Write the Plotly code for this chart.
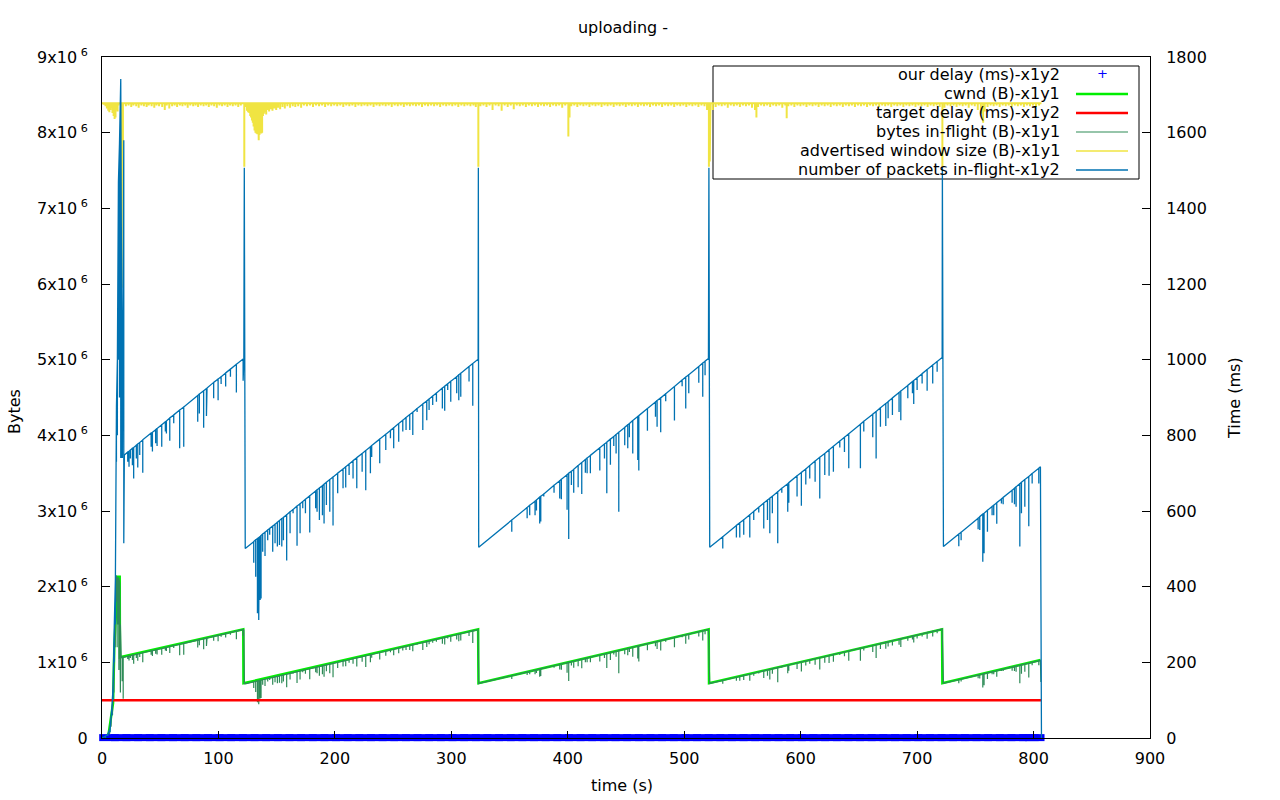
import plotly.graph_objects as go

# ---------------- data ----------------
# number of packets in-flight (y2): per sample time, sawtooth value (top) and lowest value (low)
PKT_T = [0, 3, 5, 7, 8.5, 9.5, 10.5, 11.5, 12.4, 13.2, 14.1, 15.0, 16.1, 16.8, 17.5, 18.7, 19.2,
         22.1, 23.2, 24.4, 26.1, 27.2, 29.5, 30.7, 32.4, 35.0, 42.2, 43.3, 46.1, 47.3, 51.3, 54.4, 55.3, 58.2, 61.6, 66.7, 70.2,
         82.2, 83.6, 87.3, 89.7, 90.2, 95.9, 99.7, 102.3, 106.2, 110.3, 115.4, 121.2, 121.8, 122.2, 122.5,
         123.0, 130.3, 132.0, 133.5, 134.6, 135.1, 135.8, 136.2, 136.6, 138.0, 140.0, 142.3, 144.0, 146.6, 148.6, 150.6, 152.4,
         154.4, 155.8, 158.6, 161.5, 164.1, 167.5, 170.1, 172.4, 174.7, 178.4, 183.5, 184.7, 186.7, 189.3, 190.7, 192.7, 195.6,
         198.4, 202.4, 207.0, 209.3, 212.2, 215.6, 218.8, 223.4, 226.5, 230.5, 231.6, 238.5, 243.7, 247.7, 250.5, 254.8, 258.3,
         261.1, 264.3, 266.9, 270.6, 275.5, 278.9, 280.9, 284.0, 287.2, 292.3, 294.3, 296.9, 299.5, 304.6, 306.4, 308.1, 315.2,
         318.4, 323.0, 323.2,
         323.5, 351.9, 365.1, 367.3, 371.9, 373.1, 375.9, 376.8, 379.4, 388.2, 393.1, 394.5, 399.4, 400.8, 403.1, 405.1, 408.9,
         412.0, 415.1, 416.6, 419.4, 427.5, 431.5, 433.5, 436.6, 439.5, 441.5, 443.8, 448.9, 451.5, 452.9, 455.8, 460.1, 461.0,
         468.4, 475.3, 476.7, 479.8, 484.1, 491.6, 498.2, 501.3, 503.9, 512.5, 515.9, 517.9, 520.8, 521.2,
         521.9, 533.1, 544.8, 547.7, 551.1, 556.3, 559.7, 564.0, 568.3, 571.5, 573.5, 575.7, 580.3, 583.8, 588.9, 589.8, 596.9,
         600.6, 604.4, 607.8, 612.4, 616.4, 620.7, 624.4, 628.1, 633.6, 637.6, 641.3, 651.3, 654.2, 661.9, 664.8, 668.5, 673.1,
         675.1, 678.8, 684.5, 686.0, 692.0, 696.0, 697.1, 700.0, 704.3, 708.6, 713.4, 717.2, 721.5, 721.7,
         722.6, 735.8, 737.8, 752.4, 753.8, 756.4, 757.5, 760.4, 764.4, 765.8, 768.4, 772.4, 773.9, 781.6, 783.6, 785.0, 788.2,
         789.6, 792.5, 795.9, 798.8, 804.5, 805.9, 806.1, 806.6, 806.8]
PKT_TOP = [0, 5, 10, 25, 80, 135, 293, 420, 875, 1000, 1470, 1570, 1742, 1200, 760, 1580, 748,
           756, 758, 761, 766, 768, 774, 777, 781, 788, 806, 808, 815, 818, 828, 836, 838, 846, 854, 867, 875,
           905, 909, 918, 924, 925, 940, 949, 955, 965, 975, 988, 1002, 1002, 1507, 502,
           501, 519, 524, 527, 530, 531, 533, 534, 535, 539, 544, 550, 554, 560, 565, 570, 575,
           580, 583, 590, 598, 604, 613, 619, 625, 631, 640, 653, 656, 661, 667, 671, 676, 683,
           690, 700, 711, 717, 724, 733, 741, 752, 760, 770, 773, 790, 803, 813, 820, 831, 840,
           847, 855, 861, 871, 883, 891, 896, 904, 912, 925, 930, 936, 943, 955, 960, 964, 982,
           990, 1001, 1507,
           504, 576, 609, 615, 626, 629, 637, 639, 645, 668, 680, 684, 696, 700, 705, 710, 720,
           728, 736, 740, 747, 767, 777, 782, 790, 797, 802, 808, 821, 828, 831, 839, 850, 852,
           871, 888, 892, 899, 910, 929, 946, 954, 960, 982, 991, 996, 1003, 1507,
           504, 532, 562, 569, 577, 590, 599, 610, 621, 629, 634, 639, 651, 660, 672, 675, 693,
           702, 711, 720, 732, 742, 752, 762, 771, 785, 795, 804, 829, 837, 856, 863, 873, 884,
           889, 899, 913, 917, 932, 942, 945, 952, 963, 974, 986, 995, 1006, 1509,
           506, 539, 544, 581, 585, 592, 594, 602, 612, 615, 622, 632, 636, 655, 660, 664, 672,
           676, 683, 691, 699, 713, 717, 523, 523, 0]
PKT_LOW = [0, 0, 5, 15, 60, 100, 200, 300, 730, 800, 1000, 900, 740, 740, 740, 515, 748,
           730, 717, 739, 721, 686, 739, 715, 748, 701, 770, 757, 779, 772, 770, 810, 805, 786, 832, 766, 770,
           836, 858, 820, 851, 867, 898, 893, 936, 929, 955, 913, 944, 1002, 1507, 502,
           501, 463, 426, 330, 312, 360, 365, 370, 369, 492, 481, 523, 537, 492, 515, 506, 510,
           506, 523, 469, 541, 594, 508, 541, 607, 594, 543, 607, 598, 576, 589, 567, 616, 598,
           562, 647, 660, 662, 695, 686, 660, 704, 655, 700, 743, 726, 761, 792, 766, 783, 810,
           814, 814, 801, 862, 814, 840, 867, 880, 889, 871, 865, 920, 889, 911, 893, 902, 942,
           878, 1001, 1507,
           504, 545, 581, 589, 589, 601, 567, 572, 638, 648, 633, 631, 603, 526, 669, 648, 663,
           645, 701, 700, 700, 707, 739, 647, 722, 772, 752, 598, 774, 766, 795, 752, 735, 707,
           812, 849, 823, 808, 890, 839, 930, 871, 911, 939, 902, 959, 1003, 1507,
           504, 501, 530, 530, 537, 530, 576, 596, 554, 576, 541, 594, 515, 648, 598, 622, 638,
           614, 670, 686, 677, 633, 695, 693, 704, 768, 756, 713, 713, 810, 795, 739, 823, 825,
           845, 854, 862, 840, 898, 911, 883, 920, 937, 918, 937, 968, 1006, 1509,
           506, 507, 523, 552, 550, 466, 488, 545, 589, 589, 566, 620, 618, 622, 618, 611, 506,
           594, 611, 560, 673, 673, 717, 523, 523, 0]

# bytes in-flight (y1, in units of 10^6 bytes)
BIF_T = [0, 3, 5, 6.5, 7.8, 9.0, 10.2, 11.3, 12.2, 13.0, 13.8, 14.5, 15.2, 15.8, 16.5, 17.3, 18.2, 19.2,
         22.1, 23.2, 24.4, 26.1, 27.2, 29.5, 30.7, 32.4, 35.0, 42.2, 43.3, 46.1, 47.3, 51.3, 54.4, 55.3, 58.2, 61.6, 66.7, 70.2,
         82.2, 83.6, 87.3, 89.7, 90.2, 95.9, 99.7, 102.3, 106.2, 110.3, 115.4, 121.2, 121.8, 122.3,
         123.0, 130.3, 132.0, 133.5, 134.6, 135.1, 135.8, 136.2, 136.6, 138.0, 140.0, 142.3, 144.0, 146.6, 148.6, 150.6, 152.4,
         154.4, 155.8, 158.6, 161.5, 164.1, 167.5, 170.1, 172.4, 174.7, 178.4, 183.5, 184.7, 186.7, 189.3, 190.7, 192.7, 195.6,
         198.4, 202.4, 207.0, 209.3, 212.2, 215.6, 218.8, 223.4, 226.5, 230.5, 231.6, 238.5, 243.7, 247.7, 250.5, 254.8, 258.3,
         261.1, 264.3, 266.9, 270.6, 275.5, 278.9, 280.9, 284.0, 287.2, 292.3, 294.3, 296.9, 299.5, 304.6, 306.4, 308.1, 315.2,
         318.4, 323.0, 323.5,
         323.8, 351.9, 365.1, 367.3, 371.9, 373.1, 375.9, 376.8, 379.4, 388.2, 393.1, 394.5, 399.4, 400.8, 403.1, 405.1, 408.9,
         412.0, 415.1, 416.6, 419.4, 427.5, 431.5, 433.5, 436.6, 439.5, 441.5, 443.8, 448.9, 451.5, 452.9, 455.8, 460.1, 461.0,
         468.4, 475.3, 476.7, 479.8, 484.1, 491.6, 498.2, 501.3, 503.9, 512.5, 515.9, 517.9, 520.8, 521.4,
         521.9, 533.1, 544.8, 547.7, 551.1, 556.3, 559.7, 564.0, 568.3, 571.5, 573.5, 575.7, 580.3, 583.8, 588.9, 589.8, 596.9,
         600.6, 604.4, 607.8, 612.4, 616.4, 620.7, 624.4, 628.1, 633.6, 637.6, 641.3, 651.3, 654.2, 661.9, 664.8, 668.5, 673.1,
         675.1, 678.8, 684.5, 686.0, 692.0, 696.0, 697.1, 700.0, 704.3, 708.6, 713.4, 717.2, 721.5, 722.0,
         722.6, 735.8, 737.8, 752.4, 753.8, 756.4, 757.5, 760.4, 764.4, 765.8, 768.4, 772.4, 773.9, 781.6, 783.6, 785.0, 788.2,
         789.6, 792.5, 795.9, 798.8, 804.5, 805.9, 806.3]
BIF_TOP = [0, 0.01, 0.03, 0.1, 0.25, 0.42, 0.9, 1.6, 2.15, 2.1, 2.12, 2.1, 2.05, 1.5, 1.07, 1.07, 1.07, 1.07,
           1.081, 1.084, 1.088, 1.095, 1.098, 1.107, 1.111, 1.117, 1.127, 1.153, 1.155, 1.165, 1.170, 1.184, 1.195, 1.198, 1.210, 1.221, 1.240, 1.251,
           1.294, 1.300, 1.313, 1.321, 1.323, 1.344, 1.357, 1.366, 1.380, 1.394, 1.413, 1.433, 1.433, 0.718,
           0.716, 0.742, 0.749, 0.754, 0.758, 0.759, 0.762, 0.764, 0.765, 0.771, 0.778, 0.787, 0.792, 0.801, 0.808, 0.815, 0.822,
           0.829, 0.834, 0.844, 0.855, 0.864, 0.877, 0.885, 0.894, 0.902, 0.915, 0.934, 0.938, 0.945, 0.954, 0.960, 0.967, 0.977,
           0.987, 1.001, 1.017, 1.025, 1.035, 1.048, 1.060, 1.075, 1.087, 1.101, 1.105, 1.130, 1.148, 1.163, 1.173, 1.188, 1.201,
           1.211, 1.223, 1.231, 1.246, 1.263, 1.274, 1.281, 1.293, 1.304, 1.323, 1.330, 1.338, 1.348, 1.366, 1.373, 1.379, 1.404,
           1.416, 1.431, 0.719,
           0.721, 0.824, 0.871, 0.879, 0.895, 0.899, 0.911, 0.914, 0.922, 0.955, 0.972, 0.978, 0.995, 1.001, 1.008, 1.015, 1.030,
           1.041, 1.052, 1.058, 1.068, 1.097, 1.111, 1.118, 1.130, 1.140, 1.147, 1.155, 1.174, 1.184, 1.188, 1.200, 1.216, 1.218,
           1.246, 1.270, 1.276, 1.286, 1.301, 1.328, 1.353, 1.364, 1.373, 1.404, 1.417, 1.424, 1.434, 0.721,
           0.721, 0.761, 0.804, 0.814, 0.825, 0.844, 0.857, 0.872, 0.888, 0.899, 0.907, 0.914, 0.931, 0.944, 0.961, 0.965, 0.991,
           1.004, 1.017, 1.030, 1.047, 1.061, 1.075, 1.090, 1.103, 1.123, 1.137, 1.150, 1.185, 1.197, 1.224, 1.234, 1.248, 1.264,
           1.271, 1.286, 1.306, 1.311, 1.333, 1.347, 1.351, 1.361, 1.377, 1.393, 1.410, 1.423, 1.439, 0.724,
           0.724, 0.771, 0.778, 0.831, 0.837, 0.847, 0.849, 0.861, 0.875, 0.879, 0.889, 0.904, 0.909, 0.937, 0.944, 0.950, 0.961,
           0.967, 0.977, 0.988, 1.000, 1.020, 1.025, 0.74]
BIF_LOW = [0, 0, 0.01, 0.05, 0.15, 0.3, 0.6, 1.2, 1.8, 1.2, 1.5, 0.9, 1.0, 0.6, 1.07, 0.75, 0.52, 1.07,
           1.044, 1.025, 1.057, 1.031, 0.981, 1.057, 1.022, 1.070, 1.002, 1.101, 1.083, 1.114, 1.104, 1.101, 1.158, 1.151, 1.124, 1.190, 1.095, 1.101,
           1.195, 1.227, 1.173, 1.217, 1.240, 1.284, 1.277, 1.338, 1.328, 1.366, 1.306, 1.350, 1.433, 0.718,
           0.716, 0.662, 0.609, 0.472, 0.446, 0.515, 0.522, 0.529, 0.528, 0.704, 0.688, 0.748, 0.768, 0.704, 0.736, 0.724, 0.729,
           0.724, 0.748, 0.671, 0.774, 0.849, 0.726, 0.774, 0.868, 0.849, 0.776, 0.868, 0.855, 0.824, 0.842, 0.811, 0.881, 0.855,
           0.804, 0.925, 0.944, 0.947, 0.994, 0.981, 0.944, 1.007, 0.937, 1.001, 1.062, 1.038, 1.088, 1.133, 1.095, 1.120, 1.158,
           1.164, 1.164, 1.145, 1.233, 1.164, 1.201, 1.240, 1.258, 1.271, 1.246, 1.237, 1.316, 1.271, 1.303, 1.277, 1.290, 1.347,
           1.256, 1.431, 0.719,
           0.721, 0.779, 0.831, 0.842, 0.842, 0.859, 0.811, 0.818, 0.912, 0.927, 0.905, 0.902, 0.862, 0.752, 0.957, 0.927, 0.948,
           0.922, 1.002, 1.001, 1.001, 1.011, 1.057, 0.925, 1.032, 1.104, 1.075, 0.855, 1.107, 1.095, 1.137, 1.075, 1.051, 1.011,
           1.161, 1.214, 1.177, 1.155, 1.273, 1.200, 1.330, 1.246, 1.303, 1.343, 1.290, 1.371, 1.434, 0.721,
           0.721, 0.716, 0.758, 0.758, 0.768, 0.758, 0.824, 0.852, 0.792, 0.824, 0.774, 0.849, 0.736, 0.927, 0.855, 0.889, 0.912,
           0.878, 0.958, 0.981, 0.968, 0.905, 0.994, 0.991, 1.007, 1.098, 1.081, 1.020, 1.020, 1.158, 1.137, 1.057, 1.177, 1.180,
           1.208, 1.221, 1.233, 1.201, 1.284, 1.303, 1.263, 1.316, 1.340, 1.313, 1.340, 1.384, 1.439, 0.724,
           0.724, 0.725, 0.748, 0.789, 0.787, 0.666, 0.698, 0.779, 0.842, 0.842, 0.809, 0.887, 0.884, 0.889, 0.884, 0.874, 0.724,
           0.849, 0.874, 0.801, 0.962, 0.962, 1.025, 0.74]

# cwnd (y1, 10^6 bytes)
CWND_T = [0, 4.5, 5.8, 7.8, 9.5, 10.6, 12.4, 13.5, 15.2, 15.4, 121.3, 121.5, 323.0, 323.3, 521.0, 521.3, 721.4, 721.7, 806.0]
CWND = [0, 0.01, 0.066, 0.28, 0.46, 1.21, 1.69, 2.13, 2.13, 1.066, 1.436, 0.723, 1.436, 0.723, 1.436, 0.723, 1.436, 0.723, 1.03]

# advertised window size (y1, 10^6 bytes): maximum and momentary dips
ADV_MAX = 8.3886
ADV_T = [0, 1.5, 3.0, 4.2, 5.4, 6.3, 7.2, 8.2, 9.0, 10.0, 10.8, 11.6, 12.6, 13.4, 14.2, 16.8, 17.3, 18.0,
         20.5, 22.8, 25.1, 27.0, 29.4, 31.5, 33.8, 36.0, 38.3, 40.1, 42.6, 44.9, 46.8, 49.0, 51.7, 53.9, 55.6, 57.8,
         60.2, 62.4, 64.5, 66.9, 69.1, 71.5, 73.6, 75.8, 78.3, 80.4, 82.5, 84.8, 87.2, 89.5, 91.7, 94.0, 96.3, 98.6,
         100.9, 103.1, 105.4, 107.8, 110.0, 112.3, 114.7, 117.0, 119.2,
         122.2, 123.2, 124.5, 125.5, 126.5, 127.3, 128.0, 128.8, 129.5, 130.2, 131.0, 131.8, 132.6, 133.4, 134.2, 134.6,
         135.2, 136.0, 136.8, 137.5, 138.2, 139.0, 140.0, 141.0, 142.2, 143.5, 145.0, 146.4, 148.0, 149.6, 151.2, 153.0,
         155.0, 157.0, 159.2, 161.5, 163.8, 166.0, 168.5, 171.0, 173.4, 176.0, 178.6, 181.2, 183.8, 186.4, 189.0, 191.6,
         194.2, 196.8, 199.4, 202.0, 204.6, 207.2, 209.8, 212.4, 215.0, 217.6, 220.2, 222.8, 225.4, 228.0, 230.6, 233.2,
         235.8, 238.4, 241.0, 243.6, 246.2, 248.8, 251.4, 254.0, 256.6, 259.2, 261.8, 264.4, 267.0, 269.6, 272.2, 274.8,
         277.4, 280.0, 282.6, 285.2, 287.8, 290.4, 293.0, 295.6, 298.2, 300.8, 303.4, 306.0, 308.6, 311.2, 313.8, 316.4,
         319.0, 321.0, 323.2,
         325.0, 327.6, 330.2, 332.8, 335.4, 338.0, 340.6, 343.2, 345.8, 348.4, 351.0, 353.6, 356.2, 358.8, 361.4, 364.0,
         366.6, 369.2, 371.8, 374.4, 377.0, 379.6, 382.2, 384.8, 387.4, 390.0, 392.6, 395.2, 397.8, 400.5, 401.5, 403.0,
         405.6, 408.2, 410.8, 413.4, 416.0, 418.6, 421.2, 423.8, 426.4, 429.0, 431.6, 434.2, 436.8, 439.4, 442.0, 444.6,
         447.2, 449.8, 452.4, 455.0, 457.6, 460.2, 462.8, 465.4, 468.0, 470.6, 473.2, 475.8, 478.4, 481.0, 483.6, 486.2,
         488.8, 491.4, 494.0, 496.6, 499.2, 501.8, 504.4, 507.0, 509.6, 512.2, 514.8, 517.4, 519.6, 521.2, 521.9, 522.5,
         524.5, 527.0, 529.6, 532.2, 534.8, 537.4, 540.0, 542.6, 545.2, 547.8, 550.4, 553.0, 555.6, 558.2, 560.8, 562.0,
         563.4, 566.0, 568.6, 571.2, 573.8, 576.4, 579.0, 581.6, 584.2, 586.8, 588.0, 589.4, 592.0, 594.6, 597.2, 599.8,
         602.4, 605.0, 607.6, 610.2, 612.8, 615.4, 618.0, 620.6, 623.2, 625.8, 628.4, 631.0, 633.6, 636.2, 638.8, 641.4,
         644.0, 646.6, 649.2, 651.8, 654.4, 657.0, 659.6, 662.2, 664.8, 667.4, 670.0, 672.6, 675.2, 677.8, 680.4, 683.0,
         685.6, 688.2, 690.8, 693.4, 696.0, 698.6, 701.2, 703.8, 706.4, 709.0, 711.6, 714.2, 716.8, 719.4, 721.7,
         723.5, 726.1, 728.7, 731.3, 733.9, 736.5, 739.1, 741.7, 744.3, 746.9, 749.5, 752.1, 754.7, 756.7, 758.0, 760.5,
         763.1, 765.7, 768.3, 770.9, 773.5, 776.1, 778.7, 781.3, 783.9, 786.5, 789.1, 791.7, 794.3, 796.9, 799.5, 802.1,
         804.7, 806.8]
ADV_LOW = [8.3886, 8.37, 8.35, 8.32, 8.29, 8.27, 8.30, 8.33, 8.26, 8.22, 8.18, 8.20, 8.30, 8.28, 8.36, 5.95, 6.93, 7.77,
           8.35, 8.36, 8.34, 8.36, 8.35, 8.33, 8.36, 8.35, 8.34, 8.36, 8.35, 8.33, 8.36, 8.35, 8.34, 8.30, 8.36, 8.32,
           8.35, 8.36, 8.34, 8.36, 8.35, 8.36, 8.33, 8.36, 8.35, 8.36, 8.34, 8.36, 8.35, 8.36, 8.34, 8.36, 8.35, 8.33,
           8.36, 8.35, 8.36, 8.34, 8.36, 8.35, 8.36, 8.34, 8.36,
           7.55, 8.34, 8.29, 8.27, 8.26, 8.22, 8.20, 8.16, 8.13, 8.08, 8.03, 8.00, 7.99, 7.98, 7.95, 7.90,
           7.97, 7.99, 7.99, 8.00, 8.22, 8.25, 8.27, 8.24, 8.30, 8.28, 8.31, 8.29, 8.32, 8.30, 8.33, 8.31,
           8.34, 8.32, 8.35, 8.33, 8.35, 8.34, 8.35, 8.33, 8.36, 8.35, 8.36, 8.34, 8.36, 8.35, 8.36, 8.34,
           8.36, 8.35, 8.36, 8.35, 8.36, 8.34, 8.36, 8.35, 8.36, 8.34, 8.36, 8.35, 8.36, 8.35, 8.36, 8.34,
           8.36, 8.35, 8.36, 8.35, 8.36, 8.34, 8.36, 8.35, 8.36, 8.34, 8.36, 8.35, 8.36, 8.35, 8.36, 8.34,
           8.36, 8.35, 8.36, 8.35, 8.36, 8.34, 8.36, 8.35, 8.36, 8.35, 8.36, 8.34, 8.36, 8.35, 8.36, 8.35,
           8.36, 8.34, 7.55,
           8.35, 8.36, 8.34, 8.36, 8.30, 8.36, 8.35, 8.29, 8.36, 8.34, 8.36, 8.31, 8.36, 8.35, 8.36, 8.34,
           8.36, 8.35, 8.36, 8.34, 8.36, 8.35, 8.36, 8.34, 8.36, 8.35, 8.36, 8.33, 8.36, 7.95, 8.20, 8.35,
           8.36, 8.34, 8.36, 8.35, 8.36, 8.34, 8.36, 8.35, 8.36, 8.34, 8.36, 8.35, 8.36, 8.34, 8.36, 8.35,
           8.36, 8.34, 8.36, 8.35, 8.36, 8.34, 8.36, 8.35, 8.36, 8.34, 8.36, 8.35, 8.36, 8.34, 8.36, 8.35,
           8.36, 8.34, 8.36, 8.35, 8.36, 8.34, 8.36, 8.35, 8.36, 8.34, 8.36, 8.35, 8.30, 7.55, 7.62, 8.05,
           8.30, 8.34, 8.36, 8.35, 8.36, 8.33, 8.36, 8.35, 8.36, 8.34, 8.36, 8.35, 8.36, 8.33, 8.30, 8.20,
           8.34, 8.36, 8.35, 8.36, 8.34, 8.36, 8.35, 8.36, 8.33, 8.36, 8.19, 8.35, 8.36, 8.34, 8.36, 8.35,
           8.36, 8.34, 8.36, 8.35, 8.36, 8.34, 8.36, 8.35, 8.36, 8.34, 8.36, 8.35, 8.36, 8.34, 8.36, 8.35,
           8.36, 8.34, 8.36, 8.35, 8.36, 8.34, 8.36, 8.35, 8.36, 8.34, 8.36, 8.35, 8.36, 8.34, 8.36, 8.35,
           8.36, 8.34, 8.36, 8.35, 8.36, 8.34, 8.36, 8.35, 8.36, 8.34, 8.36, 8.35, 8.36, 8.34, 7.55,
           8.33, 8.36, 8.35, 8.36, 8.34, 8.36, 8.35, 8.36, 8.33, 8.36, 8.35, 8.30, 8.25, 8.13, 8.28, 8.34,
           8.36, 8.35, 8.36, 8.34, 8.36, 8.35, 8.36, 8.34, 8.36, 8.35, 8.36, 8.34, 8.36, 8.35, 8.36, 8.34,
           8.36, 8.3886]

# target delay (y2, ms)
TARGET_T = [0, 806.8]
TARGET_MS = [100, 100]

# our delay (y2, ms)
DELAY_T = [6, 16, 26, 36, 46, 56, 66, 76, 86, 96, 106, 116, 126, 136, 146, 156, 166, 176, 186, 196,
           206, 216, 226, 236, 246, 256, 266, 276, 286, 296, 306, 316, 326, 336, 346, 356, 366, 376, 386, 396,
           406, 416, 426, 436, 446, 456, 466, 476, 486, 496, 506, 516, 526, 536, 546, 556, 566, 576, 586, 596,
           606, 616, 626, 636, 646, 656, 666, 676, 686, 696, 706, 716, 726, 736, 746, 756, 766, 776, 786, 796, 801]
DELAY_MS = [1, 1, 1, 1, 1, 1, 1, 1, 1, 1, 1, 1, 1, 1, 1, 1, 1, 1, 1, 1,
            1, 1, 1, 1, 1, 1, 1, 1, 1, 1, 1, 1, 1, 1, 1, 1, 1, 1, 1, 1,
            1, 1, 1, 1, 1, 1, 1, 1, 1, 1, 1, 1, 1, 1, 1, 1, 1, 1, 1, 1,
            1, 1, 1, 1, 1, 1, 1, 1, 1, 1, 1, 1, 1, 1, 1, 1, 1, 1, 1, 1, 1]

X_TICKS = [0, 100, 200, 300, 400, 500, 600, 700, 800, 900]
Y1_TICKS = [0, 1, 2, 3, 4, 5, 6, 7, 8, 9]
Y1_TICKTEXT = ["0", "1x10<sup> 6</sup>", "2x10<sup> 6</sup>", "3x10<sup> 6</sup>", "4x10<sup> 6</sup>",
               "5x10<sup> 6</sup>", "6x10<sup> 6</sup>", "7x10<sup> 6</sup>", "8x10<sup> 6</sup>", "9x10<sup> 6</sup>"]
Y2_TICKS = [0, 200, 400, 600, 800, 1000, 1200, 1400, 1600, 1800]

LEGEND_NAMES = ["our delay (ms)-x1y2", "cwnd (B)-x1y1", "target delay (ms)-x1y2",
                "bytes in-flight (B)-x1y1", "advertised window size (B)-x1y1",
                "number of packets in-flight-x1y2"]

# ---------------- styling / helpers ----------------
FONT = "DejaVu Sans"
FS = 16
C_DELAY = "#0000ff"
C_CWND = "#00ee00"
C_TARGET = "#ff0000"
C_BIF = "#2e8b57"
C_ADV = "#f0e442"
C_PKT = "#0072b2"

L, R, T, B = 102, 1150, 57, 738  # plot area in pixels


def px_x(px):
    return (px - L) / (R - L)


def px_y(py):
    return (B - py) / (B - T)


def envelope(ts, tops, lows):
    xs, ys = [], []
    for t, a, b in zip(ts, tops, lows):
        xs += [t, t, t]
        ys += [a, b, a]
    return xs, ys


fig = go.Figure()

# y1 traces
fig.add_trace(go.Scatter(x=CWND_T, y=CWND, mode="lines", line=dict(color=C_CWND, width=2.5),
                         showlegend=False, hoverinfo="skip"))
bx, by = envelope(BIF_T, BIF_TOP, BIF_LOW)
fig.add_trace(go.Scatter(x=bx, y=by, mode="lines", line=dict(color=C_BIF, width=1.2),
                         showlegend=False, hoverinfo="skip"))
ax, ay = envelope(ADV_T, [ADV_MAX] * len(ADV_T), ADV_LOW)
fig.add_trace(go.Scatter(x=ax, y=ay, mode="lines", line=dict(color=C_ADV, width=2),
                         showlegend=False, hoverinfo="skip"))

# y2 traces
fig.add_trace(go.Scatter(x=DELAY_T, y=DELAY_MS, yaxis="y2", mode="markers",
                         marker=dict(symbol="line-ew", size=14, color=C_DELAY,
                                     line=dict(color=C_DELAY, width=7)),
                         cliponaxis=False, showlegend=False, hoverinfo="skip"))
fig.add_trace(go.Scatter(x=TARGET_T, y=TARGET_MS, yaxis="y2", mode="lines",
                         line=dict(color=C_TARGET, width=2.5), showlegend=False, hoverinfo="skip"))
px_, py_ = envelope(PKT_T, PKT_TOP, PKT_LOW)
fig.add_trace(go.Scatter(x=px_, y=py_, yaxis="y2", mode="lines", line=dict(color=C_PKT, width=1.3),
                         showlegend=False, hoverinfo="skip"))

axis_common = dict(showgrid=False, zeroline=False, showline=True, linecolor="black", linewidth=1,
                   ticks="inside", tickcolor="black", tickwidth=1,
                   tickfont=dict(family=FONT, size=FS, color="black"))

fig.update_layout(
    width=1280, height=800,
    margin=dict(l=L, r=1280 - R, t=T, b=800 - B, autoexpand=False),
    paper_bgcolor="white", plot_bgcolor="white",
    font=dict(family=FONT, size=FS, color="black"),
    title=dict(text="uploading -", x=623 / 1280, y=1 - 27 / 800, xanchor="center", yanchor="middle",
               font=dict(family=FONT, size=FS, color="black")),
    xaxis=dict(range=[0, 900], tickvals=X_TICKS, ticklen=7, mirror=True, ticklabelstandoff=6, **axis_common),
    yaxis=dict(range=[0, 9], tickvals=Y1_TICKS, ticktext=Y1_TICKTEXT, ticklen=8, mirror=True,
               ticklabelstandoff=10, **axis_common),
    yaxis2=dict(range=[0, 1800], tickvals=Y2_TICKS, overlaying="y", side="right", ticklen=8,
                ticklabelstandoff=12, **axis_common),
    showlegend=False,
)

annotations = [
    dict(text="Bytes", x=px_x(14), y=px_y(412), textangle=-90),
    dict(text="Time (ms)", x=px_x(1234), y=px_y(398), textangle=-90),
    dict(text="time (s)", x=px_x(622), y=px_y(785)),
]
row_y = [75, 94, 113, 132, 151, 170]
for name, yy in zip(LEGEND_NAMES, row_y):
    annotations.append(dict(text=name, x=px_x(1062), y=px_y(yy), xanchor="right"))
annotations.append(dict(text="+", x=px_x(1102), y=px_y(74), font=dict(family=FONT, size=13, color=C_DELAY)))
for a in annotations:
    a.setdefault("xref", "paper")
    a.setdefault("yref", "paper")
    a.setdefault("showarrow", False)
    a.setdefault("xanchor", "center")
    a.setdefault("yanchor", "middle")
    a.setdefault("font", dict(family=FONT, size=FS, color="black"))
fig.update_layout(annotations=annotations)

shapes = [dict(type="rect", xref="paper", yref="paper", x0=px_x(713), x1=px_x(1139), y0=px_y(179), y1=px_y(66),
               line=dict(color="black", width=1), fillcolor="rgba(0,0,0,0)", layer="below")]
sample_styles = [(C_CWND, 2.5, 94), (C_TARGET, 2.5, 113), (C_BIF, 1.2, 132), (C_ADV, 1.5, 151), (C_PKT, 1.3, 170)]
for col, w, yy in sample_styles:
    shapes.append(dict(type="line", xref="paper", yref="paper", x0=px_x(1076), x1=px_x(1128),
                       y0=px_y(yy), y1=px_y(yy), line=dict(color=col, width=w)))
fig.update_layout(shapes=shapes)

fig.write_html("out.html")
